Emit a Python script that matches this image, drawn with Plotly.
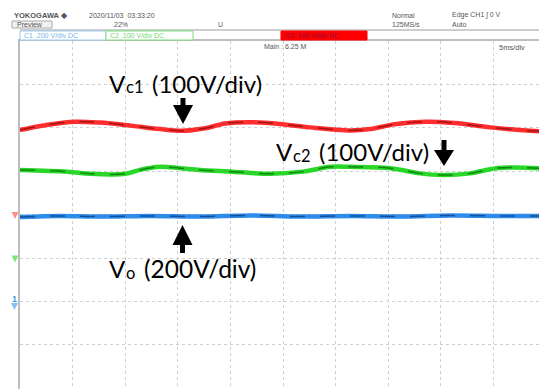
import plotly.graph_objects as go

# ---------------- data ----------------
# time axis in ms (5 ms/div), voltages in V
t_vc1 = [0, 2.4, 5.2, 7.6, 10.5, 13.3, 15.4, 17.6, 19.5, 21.9, 24.7, 27.6, 31.4, 33.3, 35.6, 38.5, 41.3, 44.7, 48.5, 49.4]
v_vc1 = [195, 206, 214, 212, 205, 197, 193, 199, 210, 213, 209, 201, 194, 197, 208, 214, 211, 201, 193, 192]

t_vc2 = [0, 4.5, 6.7, 10.0, 11.4, 13.3, 15.2, 17.1, 20.2, 23.8, 26.9, 29.5, 31.4, 35.2, 38.0, 40.2, 42.8, 45.3, 49.4]
v_vc2 = [203, 199, 194, 194, 203, 210, 207, 203, 199, 194, 199, 210, 210, 207, 195, 191, 195, 207, 207]

t_vo = [0, 3.8, 7.6, 12.4, 17.1, 21.9, 26.6, 31.4, 36.1, 40.9, 45.6, 49.4]
v_vo = [389, 394, 391, 394, 391, 396, 391, 394, 391, 396, 394, 394]

# channel settings: volts/div and ground position (divisions from top)
vdiv = {"Vc1": 100, "Vc2": 100, "Vo": 200}
ground = {"Vc1": 4, "Vc2": 5, "Vo": 6}

colors = {"Vc1": "rgb(255,45,45)", "Vc2": "rgb(40,215,40)", "Vo": "rgb(45,140,235)"}
dark = {"Vc1": "rgb(90,0,0)", "Vc2": "rgb(0,70,0)", "Vo": "rgb(0,30,90)"}

# label pieces: main symbol, subscript, scale text
label_main = ["V", "V", "V"]
label_sub = ["c1", "c2", "o"]
label_scale = ["(100V/div)", "(100V/div)", "(200V/div)"]

W, H = 539, 389
L, T = 20, 41


def px(x):
    return (x - L) / (W - L)


def py(y):
    return (H - y) / (H - T)


def to_div(name, volts):
    return [ground[name] - v / vdiv[name] for v in volts]


fig = go.Figure()

series = [("Vc1", t_vc1, v_vc1), ("Vc2", t_vc2, v_vc2), ("Vo", t_vo, v_vo)]
for name, t, v in series:
    yd = to_div(name, v)
    fig.add_trace(go.Scatter(x=t, y=yd, mode="lines", line=dict(color=colors[name], width=4.5, shape="spline", smoothing=1),
                             hoverinfo="skip", showlegend=False))
    fig.add_trace(go.Scatter(x=t, y=yd, mode="lines", line=dict(color=dark[name], width=1.5, shape="spline", smoothing=1, dash="longdash"),
                             opacity=0.55, hoverinfo="skip", showlegend=False))

shapes = []
annotations = []

# header line
shapes.append(dict(type="line", xref="paper", yref="paper", x0=px(20), x1=px(539), y0=py(30), y1=py(30),
                   line=dict(color="#bdbdbd", width=1.5)))


def box(x0, x1, border, fill, text, tcolor):
    shapes.append(dict(type="rect", xref="paper", yref="paper", x0=px(x0), x1=px(x1), y0=py(40), y1=py(31),
                       line=dict(color=border, width=1), fillcolor=fill))
    annotations.append(dict(xref="paper", yref="paper", x=px(x0 + 2), y=py(35.5), text=text, showarrow=False,
                            xanchor="left", yanchor="middle", font=dict(size=7, color=tcolor, family="Liberation Sans")))


box(20, 106, "#9cc8f0", "white", "C1  200 V/div DC", "#7ab4ea")
box(106, 193, "#7de07d", "white", "C2  100 V/div DC", "#6fd86f")
box(281, 367, "#ff0000", "#ff0000", "C3  100 V/div DC", "#8a1040")

# preview box
shapes.append(dict(type="rect", xref="paper", yref="paper", x0=px(12), x1=px(52), y0=py(28), y1=py(21),
                   line=dict(color="#aaaaaa", width=1), fillcolor="#f2f2f2"))

hdr = [
    (12, 15, "<b>YOKOGAWA</b> ◆", 7.5),
    (87, 15, "2020/11/03  03:33:20", 7),
    (15, 24.5, "Preview", 7),
    (112, 24.5, "22%", 7),
    (216, 24.5, "U", 7),
    (390, 15, "Normal", 7),
    (390, 24.5, "125MS/s", 7),
    (450, 15, "Edge CH1 \u0283 0 V", 7),
    (450, 24.5, "Auto", 7),
    (262, 46.5, "Main : 6.25 M", 7),
    (497, 47, "5ms/div", 7.5),
]
for x, y, s, fs in hdr:
    annotations.append(dict(xref="paper", yref="paper", x=px(x), y=py(y), text=s, showarrow=False,
                            xanchor="left", yanchor="middle", font=dict(size=fs, color="#555555", family="Liberation Sans")))


# ground reference markers on the left edge
def tri(cx, cy, color, s=3.5):
    path = "M {} {} L {} {} L {} {} Z".format(px(cx - s), py(cy - s), px(cx + s), py(cy - s), px(cx), py(cy + s))
    shapes.append(dict(type="path", xref="paper", yref="paper", path=path, line=dict(width=0), fillcolor=color))


gy = {k: T + g * 43.4 for k, g in ground.items()}
tri(15, gy["Vc1"] + 1, "rgba(255,110,110,0.8)")
tri(15, gy["Vc2"] + 1, "rgba(90,225,90,0.8)")
tri(14.5, gy["Vo"] + 5, "rgba(110,180,245,0.85)")
annotations.append(dict(xref="paper", yref="paper", x=px(10), y=py(gy["Vo"] - 2), text="<b>1</b>", showarrow=False,
                        xanchor="left", yanchor="middle", font=dict(size=9, color="rgb(70,150,230)", family="Liberation Sans")))


# arrows (shaft + head) drawn as paper shapes
def arrow(cx, y_tail, y_head_base, y_tip):
    shapes.append(dict(type="rect", xref="paper", yref="paper", x0=px(cx - 2.5), x1=px(cx + 2.5),
                       y0=py(y_tail), y1=py(y_head_base), line=dict(width=0), fillcolor="black"))
    path = "M {} {} L {} {} L {} {} Z".format(px(cx - 10), py(y_head_base), px(cx + 10), py(y_head_base), px(cx), py(y_tip))
    shapes.append(dict(type="path", xref="paper", yref="paper", path=path, line=dict(width=0), fillcolor="black"))


arrow(183, 98, 105, 124)
arrow(444, 140, 150, 166)
arrow(182.5, 253, 245, 225)

# text labels: (x of V, x of subscript, x of scale text, centre y, size of scale text)
lab_pos = [(107, 123.5, 150, 83, 24), (274, 290.5, 317, 151, 24), (107, 123.5, 142, 268, 24.5)]
for (xv, xs, xt, yc, fs), m, sb, sc in zip(lab_pos, label_main, label_sub, label_scale):
    annotations.append(dict(xref="paper", yref="paper", x=px(xv), y=py(yc), text=m, showarrow=False,
                            xanchor="left", yanchor="middle", font=dict(size=24, color="black", family="Lato")))
    annotations.append(dict(xref="paper", yref="paper", x=px(xs), y=py(yc + 4.5), text=sb, showarrow=False,
                            xanchor="left", yanchor="middle", font=dict(size=16.5, color="black", family="Lato")))
    annotations.append(dict(xref="paper", yref="paper", x=px(xt), y=py(yc), text=sc, showarrow=False,
                            xanchor="left", yanchor="middle", font=dict(size=fs, color="black", family="Lato")))

fig.update_layout(
    width=W, height=H,
    margin=dict(l=L, r=0, t=T, b=0),
    paper_bgcolor="white", plot_bgcolor="white",
    shapes=shapes, annotations=annotations,
    xaxis=dict(range=[0, (W - L) / 10.52], tick0=0, dtick=5, showgrid=True, gridcolor="#cfcfcf", griddash="3px,3px",
               gridwidth=1.2, zeroline=False, showticklabels=False, ticks="", side="top",
               showline=True, linecolor="#bdbdbd", linewidth=2),
    yaxis=dict(range=[(H - T) / 43.4, 0], tick0=0, dtick=1, showgrid=True, gridcolor="#cfcfcf", griddash="3px,3px",
               gridwidth=1.2, zeroline=False, showticklabels=False, ticks="",
               showline=True, linecolor="#bdbdbd", linewidth=2),
    font=dict(family="Liberation Sans"),
)

fig.write_html("out.html")
